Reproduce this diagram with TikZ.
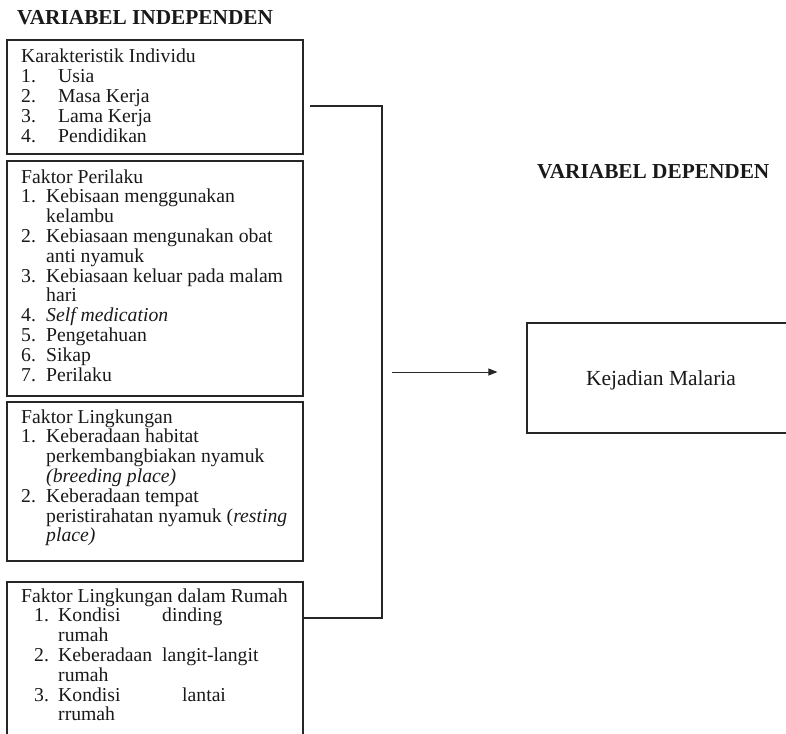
\documentclass[tikz,border=0pt]{standalone}
\usepackage{fontspec}
\setmainfont{Liberation Serif}
\usetikzlibrary{arrows.meta}
\newcommand{\bodyfont}{\fontsize{19.7}{19.8}\selectfont}
\newcommand{\headfont}{\fontsize{21.3}{24}\selectfont\bfseries}
\newcommand{\kejfont}{\fontsize{21.5}{24}\selectfont}
\begin{document}
\begin{tikzpicture}[x=1pt,y=-1pt,
  box/.style={draw=black!85, line width=1.2pt, rectangle, inner sep=0pt},
  txt/.style={anchor=base west, inner sep=0pt, font=\bodyfont, text=black!90},
  head/.style={anchor=base west, inner sep=0pt, font=\headfont, text=black!90},
  conn/.style={draw=black!85, line width=1.2pt}]
\useasboundingbox (0,0) rectangle (786,733);
\clip (0,0) rectangle (786,733);
% headings
\node[head] (hind) at (17,25) {VARIABEL INDEPENDEN};
\node[head] (hdep) at (537,178) {VARIABEL DEPENDEN};
% boxes
\node[box, minimum width=296pt, minimum height=114pt] (b1) at (155,97) {};
\node[box, minimum width=296pt, minimum height=235pt] (b2) at (155,278.5) {};
\node[box, minimum width=296pt, minimum height=159pt] (b3) at (155,481.5) {};
\node[box, minimum width=296pt, minimum height=178pt] (b4) at (155,671) {};
\node[box, minimum width=268pt, minimum height=110pt, font=\kejfont, text depth=0pt, text=black!90] (dep) at (661,378) {Kejadian Malaria};
% box texts
\node[txt] (t1) at (21,63) {\parbox[t]{280pt}{Karakteristik Individu\\
\makebox[37pt][l]{1.}Usia\\
\makebox[37pt][l]{2.}Masa Kerja\\
\makebox[37pt][l]{3.}Lama Kerja\\
\makebox[37pt][l]{4.}Pendidikan}};
\node[txt] (t2) at (21,183) {\parbox[t]{280pt}{Faktor Perilaku\\
\makebox[25pt][l]{1.}Kebisaan menggunakan\\
\hspace*{25pt}kelambu\\
\makebox[25pt][l]{2.}Kebiasaan mengunakan obat\\
\hspace*{25pt}anti nyamuk\\
\makebox[25pt][l]{3.}Kebiasaan keluar pada malam\\
\hspace*{25pt}hari\\
\makebox[25pt][l]{4.}\textit{Self medication}\\
\makebox[25pt][l]{5.}Pengetahuan\\
\makebox[25pt][l]{6.}Sikap\\
\makebox[25pt][l]{7.}Perilaku}};
\node[txt] (t3) at (21,423) {\parbox[t]{280pt}{Faktor Lingkungan\\
\makebox[25pt][l]{1.}Keberadaan habitat\\
\hspace*{25pt}perkembangbiakan nyamuk\\
\hspace*{25pt}\textit{(breeding place)}\\
\makebox[25pt][l]{2.}Keberadaan tempat\\
\hspace*{25pt}peristirahatan nyamuk (\textit{resting}\\
\hspace*{25pt}\textit{place)}}};
\node[txt] (t4) at (21,602) {\parbox[t]{280pt}{Faktor Lingkungan dalam Rumah\\
\hspace*{13pt}\makebox[24pt][l]{1.}\makebox[104pt][l]{Kondisi}dinding\\
\hspace*{37pt}rumah\\
\hspace*{13pt}\makebox[24pt][l]{2.}\makebox[104pt][l]{Keberadaan}langit-langit\\
\hspace*{37pt}rumah\\
\hspace*{13pt}\makebox[24pt][l]{3.}\makebox[124pt][l]{Kondisi}lantai\\
\hspace*{37pt}rrumah}};
% connectors
\coordinate (cs) at (310,106);
\coordinate (cb) at (382,618);
\draw[conn] (cs) -| (cb) -- (cb -| b4.east);
\coordinate (as) at (392,372);
\draw[conn, line width=1pt, -{Triangle[length=9pt,width=7pt]}] (as) -- ([xshift=-29pt]dep.west |- as);
\end{tikzpicture}
\end{document}
